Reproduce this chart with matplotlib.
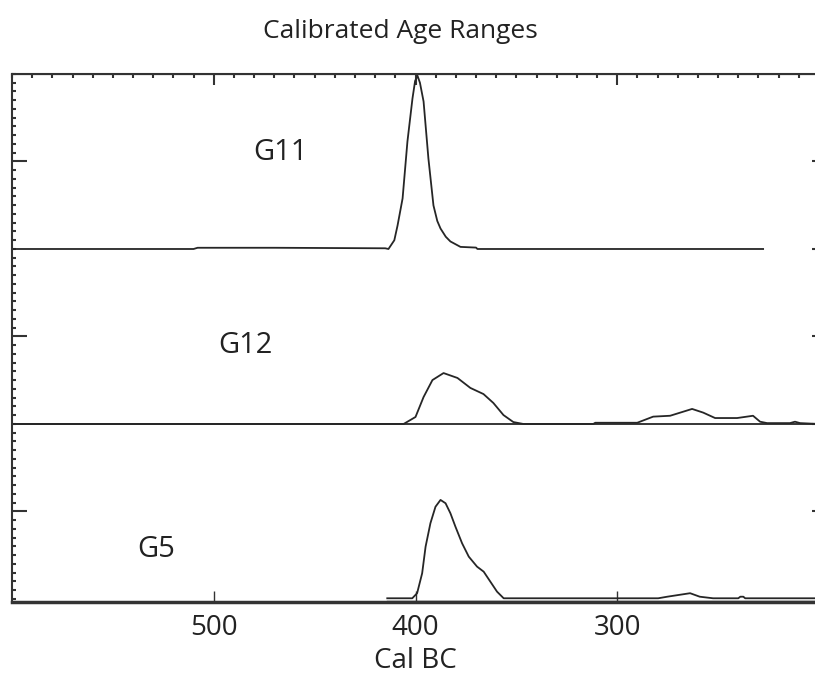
import numpy as np
import matplotlib.pyplot as plt
from matplotlib.ticker import MultipleLocator, FixedLocator, NullFormatter

plt.rcParams['font.family'] = ['Open Sans', 'DejaVu Sans']

# calibrated probability curves (cal BC, relative height)
g11_years = [600, 510, 508, 470, 415, 413.4, 410.5, 408.9, 406.4, 404.0, 401.5,
             400.2, 399.0, 397.8, 396.0, 393.6, 391.1, 389.2, 387.6, 385.0, 382.7,
             377.7, 370, 369.3, 227.7]
g11_prob = [0, 0, 0.007, 0.007, 0.004, 0, 0.05, 0.134, 0.289, 0.614, 0.86,
            0.96, 0.99, 0.95, 0.843, 0.517, 0.249, 0.16, 0.117, 0.07, 0.043,
            0.012, 0.008, 0, 0]

g12_years = [600, 405.9, 400.0, 396.0, 391.6, 386.1, 379.2, 372.8, 366.3, 361.4,
             356.4, 351.5, 346.5, 311.9, 310.9, 290.1, 282.2, 273.8, 262.9, 257.4,
             251.5, 240.6, 232.7, 229.2, 225.7, 214.4, 211.9, 209.4, 200]
g12_prob = [0, 0, 0.04, 0.154, 0.251, 0.291, 0.263, 0.206, 0.171, 0.12,
            0.051, 0.011, 0, 0, 0.007, 0.007, 0.042, 0.047, 0.086, 0.065,
            0.034, 0.034, 0.047, 0.013, 0.005, 0.005, 0.013, 0.005, 0]

g5_years = [414, 401.6, 399.2, 396.7, 395.0, 392.6, 390.1, 387.6, 385.1, 382.7,
            380.2, 376.9, 373.6, 369.5, 366.2, 362.9, 359.6, 356.3, 279.7, 275.2,
            263.9, 259.1, 252.5, 240, 239, 237.5, 236.6, 200]
g5_prob = [0.004, 0.004, 0.033, 0.147, 0.299, 0.433, 0.527, 0.566, 0.547, 0.49,
           0.413, 0.318, 0.242, 0.185, 0.156, 0.099, 0.042, 0.004, 0.004, 0.013,
           0.033, 0.013, 0.004, 0.004, 0.013, 0.013, 0.004, 0.004]

groups = ['G5', 'G12', 'G11']
label_pos = [(528.7, 0.28), (484.2, 1.45), (466.8, 2.55)]
x_ticks = [500, 400, 300]

line_col = '#262626'

fig = plt.figure(figsize=(8.15, 6.82), dpi=100)
ax = fig.add_axes([12 / 815, 0.1166, 807 / 815, 0.7749])

curves = [(g5_years, g5_prob), (g12_years, g12_prob), (g11_years, g11_prob)]
for offset, (yrs, prob) in enumerate(curves):
    ax.plot(yrs, np.array(prob) + offset, color=line_col, lw=1.3)
# baselines under G12 and G5
ax.axhline(1, color=line_col, lw=1.3)
ax.plot([414, 200], [-0.012, -0.012], color=line_col, lw=1.0)

for name, (x, y) in zip(groups, label_pos):
    ax.text(x, y, name, ha='center', va='center', fontsize=21, color='#222222')

ax.set_xlim(600, 200)
ax.set_ylim(-0.02, 3.0)

for s in ax.spines.values():
    s.set_color('#333333')
    s.set_linewidth(1.5)
ax.spines['bottom'].set_linewidth(2.5)

# bottom axis: labelled major ticks only
ax.xaxis.set_major_locator(FixedLocator(x_ticks))
ax.tick_params(axis='x', which='major', direction='in', length=8, width=1,
               colors='#333333', labelsize=20, labelcolor='#222222', pad=8)
# left axis: long ticks at the panel middles, minor every 0.05
ax.yaxis.set_major_locator(FixedLocator([0.5, 1.5, 2.5]))
ax.yaxis.set_minor_locator(MultipleLocator(0.05))
ax.yaxis.set_major_formatter(NullFormatter())
ax.tick_params(axis='y', which='major', direction='in', length=11, width=1.5,
               colors='#333333')
ax.tick_params(axis='y', which='minor', direction='in', length=3, width=1.5,
               colors='#333333')

top = ax.secondary_xaxis('top')
top.xaxis.set_major_locator(FixedLocator([500, 400, 300]))
top.xaxis.set_minor_locator(MultipleLocator(10))
top.xaxis.set_major_formatter(NullFormatter())
top.tick_params(which='major', direction='in', length=8, width=1.5, colors='#333333')
top.tick_params(which='minor', direction='in', length=3, width=1.5, colors='#333333')

right = ax.secondary_yaxis('right')
right.yaxis.set_major_locator(FixedLocator([0.5, 1, 1.5, 2, 2.5]))
right.yaxis.set_major_formatter(NullFormatter())
right.tick_params(which='major', direction='in', length=5, width=1.5, colors='#333333')

ax.set_xlabel('Cal BC', fontsize=20, color='#222222', labelpad=4)
fig.text(400 / 815, 1 - 32 / 682, 'Calibrated Age Ranges', ha='center', va='center',
         fontsize=19, color='#222222')

fig.savefig('out.png', dpi=100)
